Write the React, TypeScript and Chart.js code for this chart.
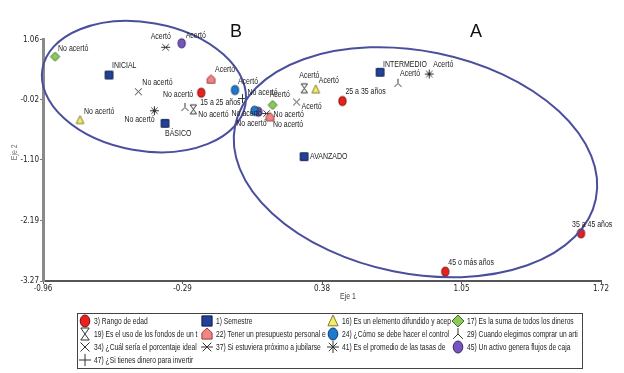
import React, { useEffect, useRef } from "react";
import { Chart, registerables } from "chart.js";

Chart.register(...registerables);

const FONT = "'Liberation Sans Narrow', 'Arial Narrow', 'DejaVu Sans Condensed', sans-serif";
const BASE_FONT = "'Liberation Sans', Arial, sans-serif";

// ---------- axis ticks ----------
const xTicks = [-0.96, -0.29, 0.38, 1.05, 1.72];
const yTicks = [1.06, -0.02, -1.1, -2.19, -3.27];
const xTitle = "Eje 1";
const yTitle = "Eje 2";

// ---------- series data: [Eje 1, Eje 2] ----------
const rangoEdad = [[-0.2, 0.106], [0.478, -0.043], [1.624, -2.415], [0.972, -3.103]];
const rangoEdadLabels = ["15 a 25 años", "25 a 35 años", "35 a 45 años", "45 o más años"];

const semestre = [[-0.643, 0.423], [-0.374, -0.443], [0.659, 0.472], [0.294, -1.041]];
const semestreLabels = ["INICIAL", "BÁSICO", "INTERMEDIO", "AVANZADO"];

const p16 = [[-0.782, -0.383], [0.35, 0.167]];
const p16Labels = ["No acertó", "Acertó"];

const p17 = [[-0.902, 0.752], [0.143, -0.114]];
const p17Labels = ["No acertó", "Acertó"];

const p19 = [[-0.238, -0.192], [0.295, 0.185]];
const p19Labels = ["No acertó", "Acertó"];

const p22 = [[-0.153, 0.346], [0.13, -0.33]];
const p22Labels = ["Acertó", "No acertó"];

const p24 = [[-0.038, 0.154], [0.056, -0.217]];
const p24Labels = ["Acertó", "No acertó"];

const p29 = [[-0.278, -0.156], [0.745, 0.275]];
const p29Labels = ["No acertó", "Acertó"];

const p34 = [[-0.502, 0.124], [0.258, -0.061]];
const p34Labels = ["No acertó", "Acertó"];

const p37 = [[-0.371, 0.92], [0.114, -0.267]];
const p37Labels = ["Acertó", "No acertó"];

const p41 = [[-0.425, -0.217], [0.895, 0.441]];
const p41Labels = ["No acertó", "Acertó"];

const p45 = [[-0.294, 0.992], [0.074, -0.235]];
const p45Labels = ["Acertó", "No acertó"];

const p47 = [[-0.002, 0.002]];
const p47Labels = ["No acertó"];

const seriesNames = [
  "3) Rango de edad",
  "1) Semestre",
  "16) Es un elemento difundido y acep",
  "17) Es la suma de todos los dineros",
  "19) Es el uso de los fondos de un t",
  "22) Tener un presupuesto personal e",
  "24) ¿Cómo se debe hacer el control",
  "29) Cuando elegimos comprar un arti",
  "34) ¿Cuál sería el porcentaje ideal",
  "37) Si estuviera próximo a jubilarse",
  "41) Es el promedio de las tasas de",
  "45) Un activo genera flujos de caja",
  "47) ¿Si tienes dinero para invertir",
];
const seriesPoints = [rangoEdad, semestre, p16, p17, p19, p22, p24, p29, p34, p37, p41, p45, p47];
const seriesLabels = [
  rangoEdadLabels, semestreLabels, p16Labels, p17Labels, p19Labels, p22Labels,
  p24Labels, p29Labels, p34Labels, p37Labels, p41Labels, p45Labels, p47Labels,
];

// ellipse groups (centre / semi-axes in data units, rotation in degrees) and their letters
const groupNames = ["B", "A"];
const groupEllipses = [
  { cx: -0.475, cy: 0.216, rx: 0.495, ry: 1.15, rot: 10 },
  { cx: 0.829, cy: -1.141, rx: 0.884, ry: 1.995, rot: 11.5 },
];
const groupLetterPos = [[-0.033, 1.195], [1.12, 1.195]];

// ---------- styles (kept apart from data) ----------
type Kind = "circle" | "square" | "triangle" | "diamond" | "hourglass" | "house" | "ypsilon" | "xcross" | "star6" | "star8" | "plus";
const DARK = "#333333";
const styles: { kind: Kind; fill: string; stroke: string }[] = [
  { kind: "circle", fill: "#e8211d", stroke: "#7a0a0a" },
  { kind: "square", fill: "#23419a", stroke: "#0d1d4d" },
  { kind: "triangle", fill: "#f3ee6a", stroke: "#7d7a2e" },
  { kind: "diamond", fill: "#8dc95a", stroke: "#3c6e24" },
  { kind: "hourglass", fill: "none", stroke: DARK },
  { kind: "house", fill: "#ef8585", stroke: "#9b3b3b" },
  { kind: "circle", fill: "#2179cc", stroke: "#0c3a70" },
  { kind: "ypsilon", fill: "none", stroke: DARK },
  { kind: "xcross", fill: "none", stroke: DARK },
  { kind: "star6", fill: "none", stroke: DARK },
  { kind: "star8", fill: "none", stroke: DARK },
  { kind: "circle", fill: "#7656bd", stroke: "#37236b" },
  { kind: "plus", fill: "none", stroke: DARK },
];

// label placement relative to each point (pixels)
const labelOffsets = [
  [[-1, 10], [3, -9], [-9, -9], [3, -9]],
  [[3, -9], [0, 10], [3, -8], [6, 0]],
  [[4, -8], [3, -9]],
  [[3, -8], [-3, -10]],
  [[5, 5], [-5, -13]],
  [[4, -10], [3, 8]],
  [[3, -8], [-23, 3]],
  [[-22, -13], [2, -10]],
  [[4, -9], [5, 5]],
  [[-15, -11], [7, 1]],
  [[-30, 9], [4, -9]],
  [[4, -8], [-22, 12]],
  [[5, -6]],
];

function narrowText(ctx: CanvasRenderingContext2D, text: string, x: number, y: number, size: number, align: CanvasTextAlign = "left") {
  ctx.save();
  ctx.font = `${size}px ${BASE_FONT}`;
  ctx.textAlign = align;
  ctx.textBaseline = "middle";
  ctx.translate(x, y);
  ctx.scale(0.82, 1);
  ctx.fillText(text, 0, 0);
  ctx.restore();
}

function drawSym(ctx: CanvasRenderingContext2D, kind: Kind, cx: number, cy: number, s: number, fill: string, stroke: string, lw = 1) {
  ctx.save();
  ctx.lineWidth = lw;
  ctx.strokeStyle = stroke;
  ctx.fillStyle = fill;
  ctx.beginPath();
  const filled = () => { ctx.closePath(); ctx.fill(); ctx.stroke(); };
  switch (kind) {
    case "circle":
      ctx.ellipse(cx, cy, s * 0.8, s, 0, 0, Math.PI * 2);
      ctx.fill(); ctx.stroke();
      break;
    case "square":
      ctx.rect(cx - s * 0.85, cy - s * 0.85, s * 1.7, s * 1.7);
      ctx.fill(); ctx.stroke();
      break;
    case "triangle":
      ctx.moveTo(cx, cy - s);
      ctx.lineTo(cx + s * 0.85, cy + s * 0.8);
      ctx.lineTo(cx - s * 0.85, cy + s * 0.8);
      filled();
      break;
    case "diamond":
      ctx.moveTo(cx, cy - s);
      ctx.lineTo(cx + s, cy);
      ctx.lineTo(cx, cy + s);
      ctx.lineTo(cx - s, cy);
      filled();
      break;
    case "house":
      ctx.moveTo(cx, cy - s);
      ctx.lineTo(cx + s * 0.85, cy - s * 0.2);
      ctx.lineTo(cx + s * 0.85, cy + s * 0.85);
      ctx.lineTo(cx - s * 0.85, cy + s * 0.85);
      ctx.lineTo(cx - s * 0.85, cy - s * 0.2);
      filled();
      break;
    case "hourglass":
      ctx.moveTo(cx - s * 0.7, cy - s);
      ctx.lineTo(cx + s * 0.7, cy - s);
      ctx.lineTo(cx - s * 0.7, cy + s);
      ctx.lineTo(cx + s * 0.7, cy + s);
      ctx.closePath();
      ctx.stroke();
      break;
    case "ypsilon":
      ctx.moveTo(cx, cy - s);
      ctx.lineTo(cx, cy);
      ctx.moveTo(cx - s * 0.8, cy + s * 0.8);
      ctx.lineTo(cx, cy);
      ctx.lineTo(cx + s * 0.8, cy + s * 0.8);
      ctx.stroke();
      break;
    case "xcross": {
      const d = s * 0.75;
      ctx.moveTo(cx - d, cy - d); ctx.lineTo(cx + d, cy + d);
      ctx.moveTo(cx + d, cy - d); ctx.lineTo(cx - d, cy + d);
      ctx.stroke();
      break;
    }
    case "star6": {
      const d = s * 0.72;
      ctx.moveTo(cx - d, cy - d); ctx.lineTo(cx + d, cy + d);
      ctx.moveTo(cx + d, cy - d); ctx.lineTo(cx - d, cy + d);
      ctx.moveTo(cx - s, cy); ctx.lineTo(cx + s, cy);
      ctx.stroke();
      break;
    }
    case "star8": {
      const d = s * 0.7;
      ctx.moveTo(cx - d, cy - d); ctx.lineTo(cx + d, cy + d);
      ctx.moveTo(cx + d, cy - d); ctx.lineTo(cx - d, cy + d);
      ctx.moveTo(cx - s, cy); ctx.lineTo(cx + s, cy);
      ctx.moveTo(cx, cy - s); ctx.lineTo(cx, cy + s);
      ctx.stroke();
      break;
    }
    case "plus":
      ctx.moveTo(cx - s, cy); ctx.lineTo(cx + s, cy);
      ctx.moveTo(cx, cy - s); ctx.lineTo(cx, cy + s);
      ctx.stroke();
      break;
  }
  ctx.restore();
}

function makePointCanvas(kind: Kind, s: number, fill: string, stroke: string) {
  const size = Math.ceil(2 * s + 4);
  const c = document.createElement("canvas");
  c.width = size;
  c.height = size;
  const ctx = c.getContext("2d")!;
  drawSym(ctx, kind, size / 2, size / 2, s, fill, stroke);
  return c;
}

const overlayPlugin = {
  id: "overlay",
  afterDatasetsDraw(chart: any) {
    const ctx: CanvasRenderingContext2D = chart.ctx;
    const xs = chart.scales.x;
    const ys = chart.scales.y;
    ctx.save();

    // ellipses
    ctx.strokeStyle = "#4a4f9c";
    ctx.lineWidth = 2;
    groupEllipses.forEach((e) => {
      const cx = xs.getPixelForValue(e.cx);
      const cy = ys.getPixelForValue(e.cy);
      const rx = Math.abs(xs.getPixelForValue(e.cx + e.rx) - cx);
      const ry = Math.abs(ys.getPixelForValue(e.cy + e.ry) - cy);
      ctx.beginPath();
      ctx.ellipse(cx, cy, rx, ry, (e.rot * Math.PI) / 180, 0, Math.PI * 2);
      ctx.stroke();
    });

    // point labels
    ctx.fillStyle = "#222";
    chart.data.datasets.forEach((_ds: any, i: number) => {
      const meta = chart.getDatasetMeta(i);
      meta.data.forEach((el: any, j: number) => {
        const [dx, dy] = labelOffsets[i][j];
        narrowText(ctx, seriesLabels[i][j], el.x + dx, el.y + dy, 8.5);
      });
    });

    // group letters
    ctx.font = `18px ${BASE_FONT}`;
    ctx.fillStyle = "#111";
    ctx.textAlign = "center";
    ctx.textBaseline = "middle";
    groupNames.forEach((g, i) => {
      ctx.fillText(g, xs.getPixelForValue(groupLetterPos[i][0]), ys.getPixelForValue(groupLetterPos[i][1]));
    });

    // axis titles
    ctx.fillStyle = "#444";
    narrowText(ctx, xTitle, (chart.chartArea.left + chart.chartArea.right) / 2 + 26, chart.chartArea.bottom + 16, 8.5, "center");
    ctx.save();
    ctx.translate(15, (chart.chartArea.top + chart.chartArea.bottom) / 2 - 8);
    ctx.rotate(-Math.PI / 2);
    ctx.fillStyle = "#777";
    narrowText(ctx, yTitle, 0, 0, 8.5, "center");
    ctx.restore();

    // legend
    const bx = 77.5, by = 313.5, bw = 505, bh = 55;
    ctx.strokeStyle = "#444";
    ctx.lineWidth = 1;
    ctx.strokeRect(bx, by, bw, bh);
    const colSym = [85, 207, 333, 458];
    const colText = [94, 216, 342, 467];
    const rowY = [321, 334, 347, 360];
    seriesNames.forEach((name, i) => {
      const c = i % 4;
      const r = Math.floor(i / 4);
      const st = styles[i];
      drawSym(ctx, st.kind, colSym[c], rowY[r], 6, st.fill, st.stroke, 1);
      ctx.fillStyle = "#222";
      narrowText(ctx, name, colText[c], rowY[r] + 0.5, 8.2);
    });

    ctx.restore();
  },
};

export default function App() {
  const ref = useRef<HTMLCanvasElement | null>(null);

  useEffect(() => {
    if (!ref.current) return;
    const datasets = seriesNames.map((name, i) => ({
      label: name,
      data: seriesPoints[i].map(([x, y]) => ({ x, y })),
      pointStyle: makePointCanvas(styles[i].kind, 4.5, styles[i].fill, styles[i].stroke) as any,
      pointRadius: 5,
      pointHoverRadius: 5,
      showLine: false,
      clip: false as any,
    }));

    const tickFont = { family: FONT, size: 8 };
    const chart = new Chart(ref.current, {
      type: "scatter",
      data: { datasets },
      options: {
        responsive: false,
        animation: false,
        layout: { padding: { left: 0, top: 39.5, right: 23, bottom: 70 } },
        plugins: { legend: { display: false }, tooltip: { enabled: false } },
        scales: {
          x: {
            type: "linear",
            min: xTicks[0],
            max: xTicks[xTicks.length - 1],
            afterBuildTicks: (s: any) => { s.ticks = xTicks.map((v) => ({ value: v })); },
            afterFit: (s: any) => { s.height = 22; },
            grid: { drawOnChartArea: false, drawTicks: true, tickLength: 3, tickColor: "#555", color: "#555" },
            border: { color: "#555", width: 2 },
            ticks: {
              font: tickFont,
              color: "#222",
              padding: 0,
              maxRotation: 0,
              autoSkip: false,
              callback: (v: any) => Number(v).toFixed(2),
            },
          },
          y: {
            type: "linear",
            min: yTicks[yTicks.length - 1],
            max: yTicks[0],
            afterBuildTicks: (s: any) => { s.ticks = yTicks.map((v) => ({ value: v })); },
            afterFit: (s: any) => { s.width = 43; },
            grid: { drawOnChartArea: false, drawTicks: true, tickLength: 3, tickColor: "#777", color: "#777" },
            border: { color: "#8a8a8a", width: 3 },
            ticks: {
              font: tickFont,
              color: "#222",
              padding: 1,
              autoSkip: false,
              callback: (v: any) => Number(v).toFixed(2),
            },
          },
        },
      },
      plugins: [overlayPlugin],
    });
    return () => chart.destroy();
  }, []);

  return (
    <div style={{ position: "fixed", left: 0, top: 0, width: 624, height: 373, background: "#fff" }}>
      <canvas ref={ref} width={624} height={373} style={{ display: "block" }} />
    </div>
  );
}
